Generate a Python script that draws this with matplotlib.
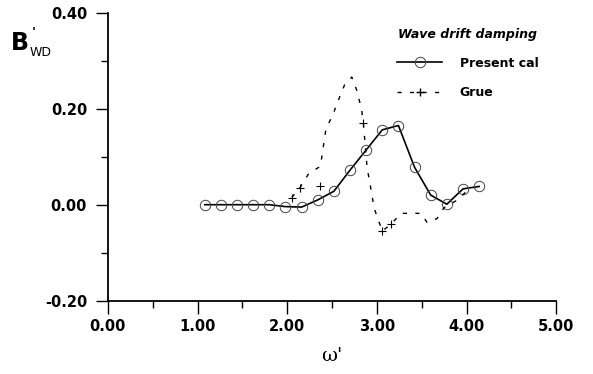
import numpy as np
import matplotlib.pyplot as plt

# Present calculation (circles, solid line)
cal_w = [1.08, 1.26, 1.44, 1.62, 1.80, 1.98, 2.16, 2.34, 2.52, 2.70, 2.88,
         3.06, 3.24, 3.42, 3.60, 3.78, 3.96, 4.14]
cal_b = [0.000, 0.000, 0.000, 0.000, 0.000, -0.004, -0.005, 0.010, 0.028, 0.072, 0.114,
         0.156, 0.165, 0.078, 0.020, 0.001, 0.033, 0.038]

# Grue (dashed line + crosses)
grue_w = [2.05, 2.14, 2.24, 2.37, 2.43, 2.52, 2.60, 2.64, 2.72, 2.78, 2.83, 2.85,
          2.89, 2.93, 2.97, 3.06, 3.16, 3.27, 3.49, 3.56, 3.67, 3.75, 3.90, 4.00]
grue_b = [0.015, 0.035, 0.065, 0.080, 0.156, 0.193, 0.232, 0.250, 0.266, 0.236, 0.197, 0.168,
          0.078, 0.036, -0.008, -0.055, -0.040, -0.018, -0.018, -0.037, -0.029, -0.006, 0.010, 0.028]
grue_pw = [2.05, 2.14, 2.36, 2.85, 3.06, 3.16]
grue_pb = [0.015, 0.035, 0.038, 0.170, -0.055, -0.040]

plt.rcParams['font.family'] = ['DejaVu Sans']

fig = plt.figure(figsize=(5.93, 3.74), dpi=100)
ax = fig.add_axes([0.182, 0.196, 0.756, 0.770])

ax.plot(cal_w, cal_b, color='black', lw=1.2, marker='o', ms=7.5, mfc='none',
        mec='#444444', mew=0.7, label='Present cal')
ax.plot(grue_w, grue_b, color='black', lw=1.0, ls=(0, (3, 6)))
ax.plot(grue_pw, grue_pb, ls='none', marker='+', ms=6, mew=0.8, color='black')
# legend handle for Grue
ax.plot([], [], color='black', lw=1.0, ls=(0, (3, 6)), marker='+', ms=6, label='Grue')

ax.set_xlim(0, 5)
ax.set_ylim(-0.2, 0.4)
ax.set_xticks(np.arange(0, 5.01, 1.0))
ax.set_xticks(np.arange(0.5, 5, 1.0), minor=True)
ax.set_yticks(np.arange(-0.2, 0.41, 0.2))
ax.set_yticks(np.arange(-0.1, 0.4, 0.2), minor=True)
ax.set_xticklabels(['%.2f' % v for v in np.arange(0, 5.01, 1.0)], fontsize=10.5, fontweight='bold')
ax.set_yticklabels(['%.2f' % v for v in np.arange(-0.2, 0.41, 0.2)], fontsize=10.5, fontweight='bold')
ax.tick_params(which='major', direction='out', length=9, width=1.0)
ax.tick_params(axis='y', which='major', pad=6)
ax.tick_params(axis='x', which='major', pad=4)
ax.tick_params(which='minor', direction='out', length=5, width=1.0)
ax.spines['top'].set_visible(False)
ax.spines['right'].set_visible(False)
ax.spines['left'].set_linewidth(1.3)
ax.spines['bottom'].set_linewidth(1.3)

leg = ax.legend(title='Wave drift damping', frameon=False, loc='upper left',
                bbox_to_anchor=(0.62, 0.985), fontsize=9, handlelength=3.6,
                handletextpad=1.4, labelspacing=1.35)
leg.get_title().set_fontstyle('italic')
leg.get_title().set_fontweight('bold')
leg.get_title().set_fontsize(9)
leg._legend_box.sep = 11
for t in leg.get_texts():
    t.set_fontweight('bold')

# axis labels
fig.text(0.018, 0.865, 'B', fontsize=17, fontweight='bold')
fig.text(0.053, 0.905, "'", fontsize=9, fontweight='bold')
fig.text(0.050, 0.850, 'WD', fontsize=9)
fig.text(0.560, 0.035, "ω'", fontsize=14, family='DejaVu Serif', ha='center')

fig.savefig('out.png', dpi=100)
